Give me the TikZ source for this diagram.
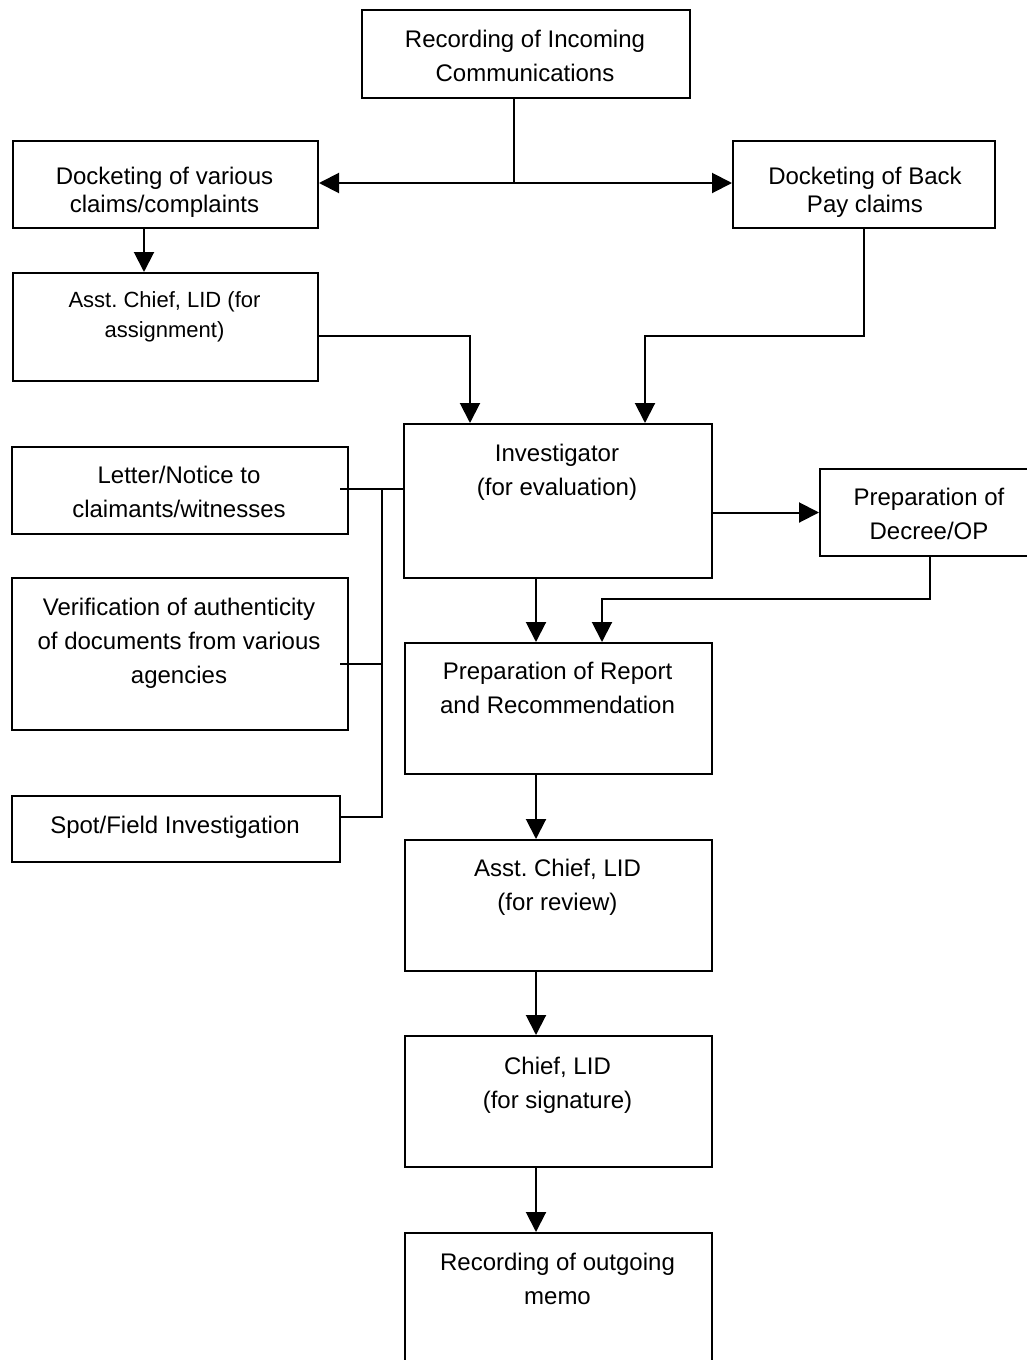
\documentclass[tikz,border=0pt]{standalone}
\usepackage{fontspec}
\setmainfont{Liberation Sans}
\usetikzlibrary{arrows.meta}
% centred, top-aligned text block: its baseline is that of the first line
\newcommand{\boxtxt}[1]{\parbox[t]{320pt}{\frenchspacing\centering #1}}
\begin{document}
\begin{tikzpicture}[x=1pt,y=-1pt,
  bx/.style={draw, line width=2pt, rectangle, inner sep=0pt, anchor=north west},
  lbl/.style={inner sep=0pt, anchor=base, font=\fontsize{24pt}{34pt}\selectfont},
  lbltight/.style={lbl, font=\fontsize{24pt}{28pt}\selectfont},
  lblsmall/.style={lbl, font=\fontsize{22pt}{30pt}\selectfont},
  link/.style={line width=2pt},
  arr/.style={link, -{Triangle[length=20pt,width=20pt]}}]
\useasboundingbox (0,0) rectangle (1027,1360);
\clip (0,0) rectangle (1027,1360);

% ---- boxes ----
\node[bx, minimum width=328pt, minimum height=88pt]  (rec)   at (361,9)    {};
\node[bx, minimum width=305pt, minimum height=87pt]  (dockv) at (12,140)   {};
\node[bx, minimum width=262pt, minimum height=87pt]  (dockb) at (732,140)  {};
\node[bx, minimum width=305pt, minimum height=108pt] (asg)   at (12,272)   {};
\node[bx, minimum width=308pt, minimum height=154pt] (inv)   at (403,423)  {};
\node[bx, minimum width=220pt, minimum height=87pt]  (dec)   at (819,468)  {};
\node[bx, minimum width=336pt, minimum height=87pt]  (let)   at (11,446)   {};
\node[bx, minimum width=336pt, minimum height=152pt] (ver)   at (11,577)   {};
\node[bx, minimum width=328pt, minimum height=66pt]  (spot)  at (11,795)   {};
\node[bx, minimum width=307pt, minimum height=131pt] (rep)   at (404,642)  {};
\node[bx, minimum width=307pt, minimum height=131pt] (rev)   at (404,839)  {};
\node[bx, minimum width=307pt, minimum height=131pt] (chf)   at (404,1035) {};
\node[bx, minimum width=307pt, minimum height=168pt] (out)   at (404,1232) {};

% ---- texts ----
\node[lbl]      (trec)   at (525,47)    {\boxtxt{Recording of Incoming\\Communications}};
\node[lbltight] (tdockv) at (164.5,184) {\boxtxt{Docketing of various\\claims/complaints}};
\node[lbltight] (tdockb) at (865,184)   {\boxtxt{Docketing of Back\\Pay claims}};
\node[lblsmall] (tasg)   at (164.5,307) {\boxtxt{Asst. Chief, LID (for\\assignment)}};
\node[lbl]      (tinv)   at (557,461)   {\boxtxt{Investigator\\(for evaluation)}};
\node[lbl]      (tdec)   at (929,505)   {\boxtxt{Preparation of\\Decree/OP}};
\node[lbl]      (tlet)   at (179,483)   {\boxtxt{Letter/Notice to\\claimants/witnesses}};
\node[lbl]      (tver)   at (179,615)   {\boxtxt{Verification of authenticity\\of documents from various\\agencies}};
\node[lbl]      (tspot)  at (175,833)   {\boxtxt{Spot/Field Investigation}};
\node[lbl]      (trep)   at (557.5,679) {\boxtxt{Preparation of Report\\and Recommendation}};
\node[lbl]      (trev)   at (557.5,876) {\boxtxt{Asst. Chief, LID\\(for review)}};
\node[lbl]      (tchf)   at (557.5,1074){\boxtxt{Chief, LID\\(for signature)}};
\node[lbl]      (tout)   at (557.5,1270){\boxtxt{Recording of outgoing\\memo}};

% ---- routing points ----
\coordinate (split) at (514,183);
\coordinate (ca)    at (470,336);
\coordinate (cb)    at (645,336);
\coordinate (spine) at (536,600);
\coordinate (cd)    at (602,599);
\coordinate (bt)    at (382,489);
\coordinate (bm)    at (382,664);
\coordinate (bb)    at (382,817);

% ---- connectors ----
\draw[link] (split |- rec.south) -- (split);
\draw[arr]  (split) -- (dockv.east |- split);
\draw[arr]  (split) -- (dockb.west |- split);
\draw[arr]  ([xshift=-21.5pt]dockv.south) -- ([xshift=-21.5pt]asg.north);
\draw[arr]  (asg.east |- ca) -- (ca) -- (ca |- inv.north);
\draw[arr]  (dockb.south) -- (dockb.south |- cb) -- (cb) -- (cb |- inv.north);
\draw[arr]  (inv.east |- dec.west) -- (dec.west);
\draw[arr]  (spine |- inv.south) -- (spine |- rep.north);
\draw[arr]  (dec.south) -- (dec.south |- cd) -- (cd) -- (cd |- rep.north);
\draw[arr]  (spine |- rep.south) -- (spine |- rev.north);
\draw[arr]  (spine |- rev.south) -- (spine |- chf.north);
\draw[arr]  (spine |- chf.south) -- (spine |- out.north);

% side tasks joined to the investigator
\draw[link] ([xshift=-9pt]let.east |- bt) -- (inv.west |- bt);
\draw[link] ([xshift=-9pt]ver.east |- bm) -- (bm);
\draw[link] (spot.east |- bb) -- (bb) -- (bt);
\end{tikzpicture}
\end{document}
